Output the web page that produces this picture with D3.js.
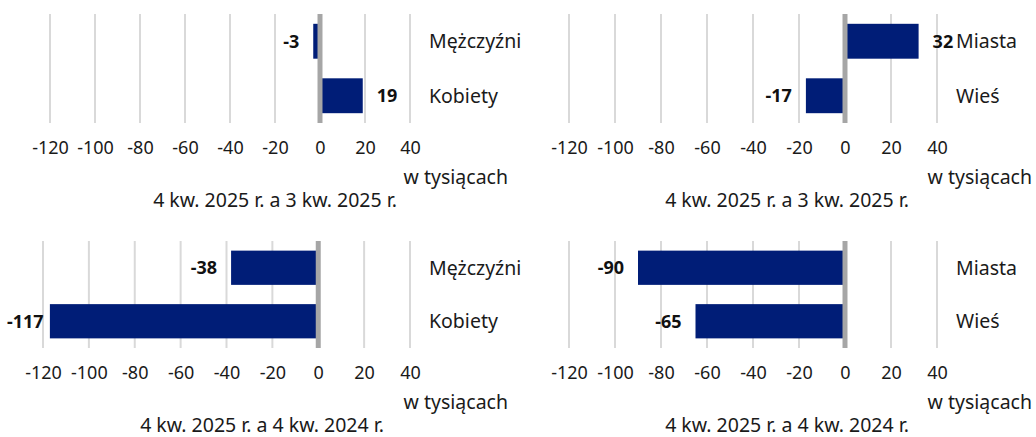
<!DOCTYPE html>
<html>
<head>
<meta charset="utf-8">
<script src="https://cdn.jsdelivr.net/npm/d3@7"></script>
<style>
  body { margin: 0; background: #fff; }
  svg { font-family: "Noto Sans", sans-serif; }
</style>
</head>
<body>
<div id="chart"></div>
<script>
// data
const sexCategories = ["Mężczyźni", "Kobiety"];
const placeCategories = ["Miasta", "Wieś"];
const sexQoQ = [-3, 19];
const placeQoQ = [32, -17];
const sexYoY = [-38, -117];
const placeYoY = [-90, -65];
const tickValues = [-120, -100, -80, -60, -40, -20, 0, 20, 40];
const subtitleQoQ = "4 kw. 2025 r. a 3 kw. 2025 r.";
const subtitleYoY = "4 kw. 2025 r. a 4 kw. 2024 r.";
const unitLabel = "w tysiącach";

const W = 1036, H = 437;
const FS = 18;     // ticks, values
const FS_TXT = 19.5; // labels, captions

const svg = d3.select("#chart").append("svg")
    .attr("width", W)
    .attr("height", H);

const panels = [
  {cats: sexCategories, vals: sexQoQ, sub: subtitleQoQ, x0: 50, x1: 410, top: 14, bottom: 123, subX: 275, unitX: 508, minX: 7},
  {cats: placeCategories, vals: placeQoQ, sub: subtitleQoQ, x0: 569, x1: 937, top: 14, bottom: 123, subX: 787, unitX: 1032, minX: 530},
  {cats: sexCategories, vals: sexYoY, sub: subtitleYoY, x0: 43, x1: 410, top: 241, bottom: 348, subX: 262, unitX: 508, minX: 7},
  {cats: placeCategories, vals: placeYoY, sub: subtitleYoY, x0: 569, x1: 937, top: 241, bottom: 348, subX: 787, unitX: 1032, minX: 530}
];

const buildPanel = (p) => {
  const data = p.cats.map((c, i) => ({label: c, value: p.vals[i]}));

  const x = d3.scaleLinear()
      .domain([-120, 40])
      .range([p.x0, p.x1]);
  const y = d3.scaleBand()
      .domain(p.cats)
      .range([p.top, p.bottom])
      .paddingInner(0.36)
      .paddingOuter(0.18);

  const g = svg.append("g");

  // gridlines
  g.selectAll(".grid")
    .data(tickValues.filter(d => d !== 0))
    .enter().append("line")
      .attr("x1", d => x(d)).attr("x2", d => x(d))
      .attr("y1", p.top).attr("y2", p.bottom)
      .attr("stroke", "#d9d9d9")
      .attr("stroke-width", 2);

  // bars
  g.selectAll(".bar")
    .data(data)
    .enter().append("rect")
      .attr("x", d => x(Math.min(0, d.value)))
      .attr("width", d => Math.abs(x(d.value) - x(0)))
      .attr("y", d => y(d.label))
      .attr("height", y.bandwidth())
      .attr("fill", "#001d77");

  // zero line
  g.append("line")
    .attr("x1", x(0)).attr("x2", x(0))
    .attr("y1", p.top).attr("y2", p.bottom)
    .attr("stroke", "#a6a6a6")
    .attr("stroke-width", 5);

  // value labels (negative ones pushed right if they would run off the panel)
  g.selectAll(".val")
    .data(data)
    .enter().append("text")
      .attr("y", d => y(d.label) + y.bandwidth() / 2)
      .attr("dy", "0.35em")
      .attr("text-anchor", "start")
      .attr("font-size", FS)
      .attr("font-weight", "bold")
      .attr("fill", "#111")
      .text(d => String(d.value))
      .attr("x", function(d) {
        if (d.value >= 0) return x(d.value) + 14;
        const w = this.getComputedTextLength();
        return Math.max(x(d.value) - 14 - w, p.minX);
      });

  // category labels
  g.selectAll(".cat")
    .data(data)
    .enter().append("text")
      .attr("x", p.x1 + 19)
      .attr("y", d => y(d.label) + y.bandwidth() / 2)
      .attr("dy", "0.35em")
      .attr("font-size", FS_TXT)
      .attr("fill", "#1a1a1a")
      .text(d => d.label);

  // x axis
  const axis = g.append("g")
    .attr("transform", `translate(0, ${p.bottom})`)
    .call(d3.axisBottom(x).tickValues(tickValues).tickFormat(d => String(d)).tickSize(0).tickPadding(18));
  axis.select(".domain").remove();
  axis.selectAll("text")
    .attr("font-size", FS)
    .attr("font-family", "Noto Sans, sans-serif")
    .attr("fill", "#1a1a1a");

  // unit label
  g.append("text")
    .attr("x", p.unitX)
    .attr("y", p.bottom + 61)
    .attr("text-anchor", "end")
    .attr("font-size", FS_TXT)
    .attr("fill", "#1a1a1a")
    .text(unitLabel);

  // subtitle
  g.append("text")
    .attr("x", p.subX)
    .attr("y", p.bottom + 84)
    .attr("text-anchor", "middle")
    .attr("font-size", FS_TXT)
    .attr("fill", "#1a1a1a")
    .text(p.sub);
};

panels.forEach(buildPanel);
</script>
</body>
</html>
